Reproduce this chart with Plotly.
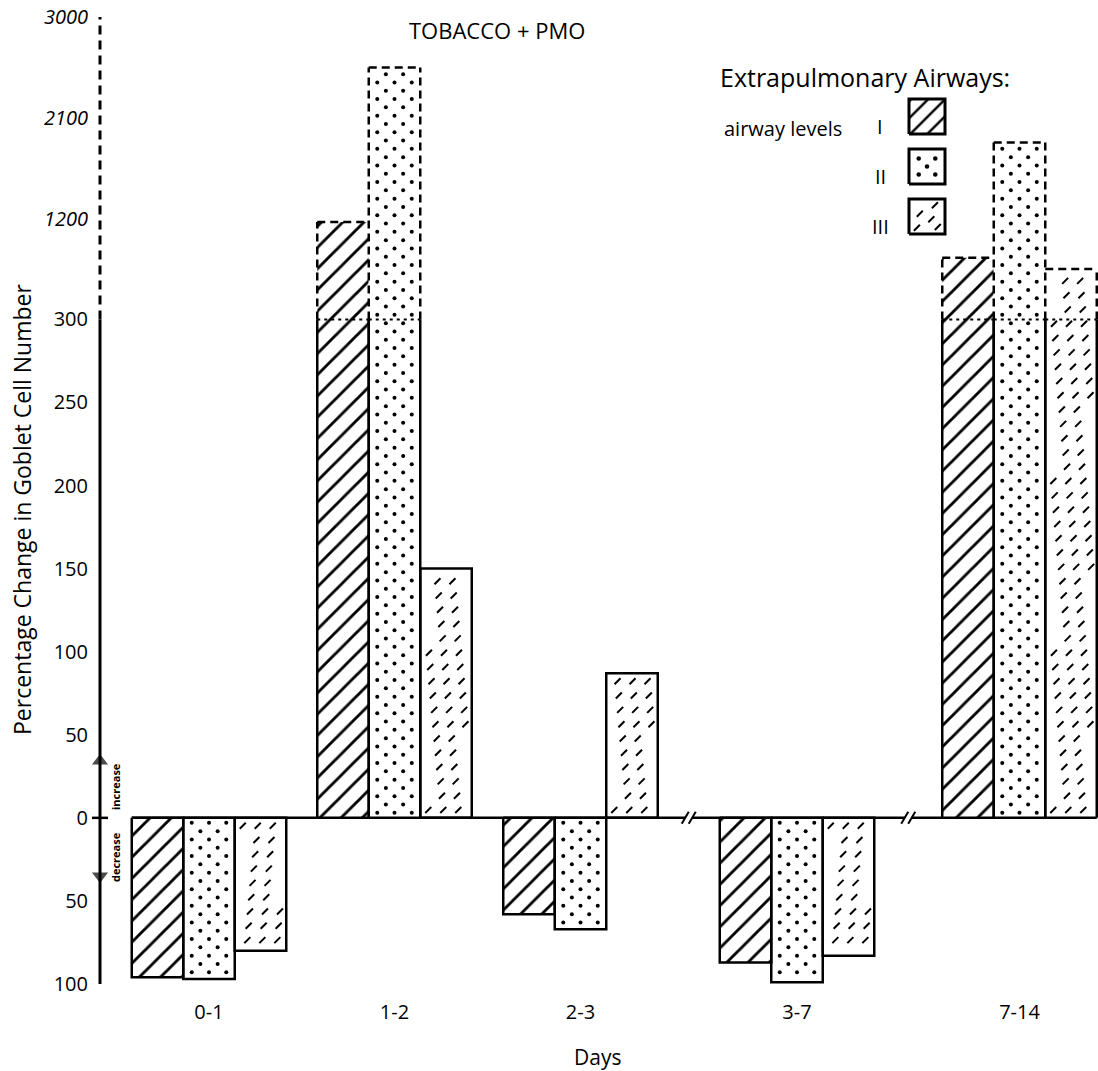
import numpy as np
import plotly.graph_objects as go

# ---------------- data ----------------
categories = ["0-1", "1-2", "2-3", "3-7", "7-14"]
airway_I = [-96, 1170, -58, -87, 850]
airway_II = [-97, 2550, -67, -99, 1880]
airway_III = [-80, 150, 87, -83, 750]
level_names = ["I", "II", "III"]

y_tick_values = [-100, -50, 0, 50, 100, 150, 200, 250, 300, 1200, 2100, 3000]
y_tick_text = ["100", "50", "0", "50", "100", "150", "200", "250", "300",
               "<i>1200</i>", "<i>2100</i>", "<i>3000</i>"]

# ---------------- layout constants ----------------
W, H = 1098, 1071
ML, MR, MT, MB = 60, 0, 17, 87
PLOT_W = W - ML - MR
PLOT_H = H - MT - MB
AX = 100                           # pixel x of the value axis
BREAK, TOP, YMIN = 300, 3000, -100
UPPER = 182.0                      # display units used for 300..3000 (broken scale)
YMAX = BREAK + UPPER
K = PLOT_H / (YMAX - YMIN)         # px per display unit
cat_pos = [209, 394.5, 580.5, 797, 1019.5]
BAR_W = 51.5
FONT = "Open Sans"
INK = "black"


def disp(v):
    return v if v <= BREAK else BREAK + (v - BREAK) * UPPER / (TOP - BREAK)


def py_to_d(py):
    return YMAX - (py - MT) / K


def py_to_paper(py):
    return (H - MB - py) / PLOT_H


def px_to_paper(px):
    return (px - ML) / PLOT_W


def bar_extent(c, i):
    x0 = c + (i - 1.5) * BAR_W
    return x0, x0 + BAR_W


series = [airway_I, airway_II, airway_III]
fig = go.Figure()

# ---------------- bars ----------------
for i, vals in enumerate(series):
    d = [disp(v) for v in vals]
    marker = dict(color="white", line=dict(width=0))
    if i == 0:
        marker["pattern"] = dict(shape="/", fgcolor=INK, bgcolor="white", size=15,
                                 solidity=0.19, fgopacity=1)
    fig.add_trace(go.Bar(
        x=cat_pos, y=d, width=BAR_W, offset=(i - 1.5) * BAR_W,
        marker=marker, name="level " + level_names[i], customdata=vals,
        hovertemplate="%{customdata}%<extra></extra>", showlegend=False))

# ---------------- textures: dots (level II) ----------------
dot_x, dot_y = [], []
row_step = 8.3 / K
for c, v in zip(cat_pos, airway_II):
    x0, _ = bar_extent(c, 1)
    d = disp(v)
    s = 1 if d > 0 else -1
    r = 0
    yy = s * row_step * 0.6
    while abs(yy) < abs(d) - 3.5 / K:
        offs = [8.5, 25.75, 43.0] if r % 2 == 0 else [17.1, 34.4]
        for o in offs:
            dot_x.append(x0 + o)
            dot_y.append(yy)
        r += 1
        yy += s * row_step
fig.add_trace(go.Scatter(x=dot_x, y=dot_y, mode="markers", hoverinfo="skip", showlegend=False,
                         marker=dict(symbol="circle", size=4, color=INK, line=dict(width=0))))

# ---------------- textures: short dashes (level III) ----------------
dash_x, dash_y = [], []
dash_step = 14.3 / K
for c, v in zip(cat_pos, airway_III):
    x0, _ = bar_extent(c, 2)
    d = disp(v)
    s = 1 if d > 0 else -1
    r = 0
    yy = s * dash_step * 0.55
    while abs(yy) < abs(d) - 5 / K:
        base = 8 + ((-1.3 * r) % 15)
        for j in range(3):
            o = base + 15 * j
            if 5 <= o <= 46:
                dash_x.append(x0 + o)
                dash_y.append(yy)
        r += 1
        yy += s * dash_step
fig.add_trace(go.Scatter(x=dash_x, y=dash_y, mode="markers", hoverinfo="skip", showlegend=False,
                         marker=dict(symbol="line-ne", size=6, color=INK,
                                     line=dict(width=2, color=INK))))

# ---------------- outlines ----------------
sx, sy, dx, dy, tx, ty = [], [], [], [], [], []
for i, vals in enumerate(series):
    for g, (c, v) in enumerate(zip(cat_pos, vals)):
        x0, x1 = bar_extent(c, i)
        d = disp(v)
        if d <= BREAK:
            sx += [x0, x0, x1, x1, x0, None]
            sy += [0, d, d, 0, 0, None]
        else:
            sx += [x0, x0, None, x1, x1, None]
            sy += [0, BREAK, None, 0, BREAK, None]
            left_n = disp(series[i - 1][g]) if i > 0 else -1e9
            right_n = disp(series[i + 1][g]) if i < 2 else -1e9
            if left_n < d:
                dx += [x0, x0, None]
                dy += [BREAK, d, None]
            if right_n < d:
                dx += [x1, x1, None]
                dy += [BREAK, d, None]
            dx += [x0, x1, None]
            dy += [d, d, None]
            tx += [x0, x1, None]
            ty += [BREAK, BREAK, None]
fig.add_trace(go.Scatter(x=sx, y=sy, mode="lines", hoverinfo="skip", showlegend=False,
                         line=dict(color=INK, width=2.5)))
fig.add_trace(go.Scatter(x=dx, y=dy, mode="lines", hoverinfo="skip", showlegend=False,
                         line=dict(color=INK, width=2.5, dash="8px,5px")))
fig.add_trace(go.Scatter(x=tx, y=ty, mode="lines", hoverinfo="skip", showlegend=False,
                         line=dict(color=INK, width=2, dash="3px,4px")))

# ---------------- axis line, zero line, breaks ----------------
fig.add_trace(go.Scatter(x=[AX, AX], y=[YMIN, BREAK], mode="lines", hoverinfo="skip",
                         showlegend=False, line=dict(color=INK, width=3)))
fig.add_trace(go.Scatter(x=[AX, AX], y=[BREAK, YMAX], mode="lines", hoverinfo="skip",
                         showlegend=False, line=dict(color=INK, width=3, dash="9px,6px")))
fig.add_trace(go.Scatter(x=[AX - 8, AX + 8], y=[0, 0], mode="lines", hoverinfo="skip",
                         showlegend=False, line=dict(color=INK, width=2.5)))

base_left = cat_pos[0] - 1.5 * BAR_W
base_right = cat_pos[-1] + 1.5 * BAR_W
brk1 = (cat_pos[2] + 1.5 * BAR_W + cat_pos[3] - 1.5 * BAR_W) / 2
brk2 = (cat_pos[3] + 1.5 * BAR_W + cat_pos[4] - 1.5 * BAR_W) / 2
gap = 3.5
zx = [base_left, brk1 - gap, None, brk1 + gap, brk2 - gap, None, brk2 + gap, base_right]
zy = [0, 0, None, 0, 0, None, 0, 0]
fig.add_trace(go.Scatter(x=zx, y=zy, mode="lines", hoverinfo="skip", showlegend=False,
                         line=dict(color=INK, width=2.5)))
hx, hy = [], []
sl = 6 / K
for b in (brk1, brk2):
    for cx in (b - gap, b + gap):
        hx += [cx - 3.5, cx + 3.5, None]
        hy += [-sl, sl, None]
fig.add_trace(go.Scatter(x=hx, y=hy, mode="lines", hoverinfo="skip", showlegend=False,
                         line=dict(color=INK, width=2)))

# arrows for increase / decrease
fig.add_trace(go.Scatter(x=[AX, AX], y=[py_to_d(761), py_to_d(876)], mode="markers",
                         hoverinfo="skip", showlegend=False,
                         marker=dict(symbol=["triangle-up", "triangle-down"], size=[14, 14],
                                     color=INK, line=dict(width=0))))

# ---------------- custom legend ----------------
LX0, LX1 = 909, 945
rows = [(99, 134), (149, 184), (199, 234)]
for i, (t, b) in enumerate(rows):
    yt, yb = py_to_d(t), py_to_d(b)
    fill_kw = {}
    if i == 0:
        fill_kw = dict(fill="toself", fillcolor="white",
                       fillpattern=dict(shape="/", fgcolor=INK, bgcolor="white", size=12,
                                        solidity=0.2, fgopacity=1))
    fig.add_trace(go.Scatter(x=[LX0, LX1, LX1, LX0, LX0], y=[yb, yb, yt, yt, yb], mode="lines",
                             hoverinfo="skip", showlegend=False,
                             line=dict(color=INK, width=3), **fill_kw))
    if i == 1:
        fx = [0.27, 0.73, 0.5, 0.27, 0.73]
        fy = [0.27, 0.27, 0.5, 0.73, 0.73]
        fig.add_trace(go.Scatter(x=[LX0 + f * (LX1 - LX0) for f in fx],
                                 y=[yt + f * (yb - yt) for f in fy], mode="markers",
                                 hoverinfo="skip", showlegend=False,
                                 marker=dict(size=4.5, color=INK, line=dict(width=0))))
    if i == 2:
        fx = [0.72, 0.3, 0.62, 0.22, 0.8]
        fy = [0.18, 0.42, 0.58, 0.82, 0.8]
        fig.add_trace(go.Scatter(x=[LX0 + f * (LX1 - LX0) for f in fx],
                                 y=[yt + f * (yb - yt) for f in fy], mode="markers",
                                 hoverinfo="skip", showlegend=False,
                                 marker=dict(symbol="line-ne", size=6, color=INK,
                                             line=dict(width=2, color=INK))))

annotations = [
    dict(text="TOBACCO + PMO", x=px_to_paper(497), y=py_to_paper(30), font=dict(size=22)),
    dict(text="Extrapulmonary Airways:", x=px_to_paper(718), y=py_to_paper(77),
         xanchor="left", font=dict(size=25)),
    dict(text="airway levels", x=px_to_paper(722), y=py_to_paper(128),
         xanchor="left", font=dict(size=20)),
    dict(text="Percentage Change in Goblet Cell Number", x=px_to_paper(22), y=py_to_paper(509),
         textangle=-90, font=dict(size=23)),
    dict(text="Days", x=px_to_paper(598), y=py_to_paper(1057), font=dict(size=21)),
    dict(text="<b>increase</b>", x=px_to_paper(115), y=py_to_paper(787), textangle=-90,
         font=dict(size=11)),
    dict(text="<b>decrease</b>", x=px_to_paper(115), y=py_to_paper(857), textangle=-90,
         font=dict(size=11)),
]
for name, (t, b) in zip(level_names, rows):
    annotations.append(dict(text=name, x=px_to_paper(880), y=py_to_paper((t + b) / 2 + 10),
                            font=dict(size=20)))
for a in annotations:
    a.setdefault("xanchor", "center")
    a.update(xref="paper", yref="paper", yanchor="middle", showarrow=False)
    a["font"].update(family=FONT, color=INK)

fig.update_layout(
    width=W, height=H,
    margin=dict(l=ML, r=MR, t=MT, b=MB, pad=0),
    paper_bgcolor="white", plot_bgcolor="white",
    barmode="overlay",
    font=dict(family=FONT, color=INK),
    showlegend=False,
    annotations=annotations,
    xaxis=dict(range=[ML, W - MR], tickmode="array", tickvals=cat_pos, ticktext=categories,
               showgrid=False, zeroline=False, showline=False, ticks="",
               tickfont=dict(size=20, family=FONT, color=INK), ticklabelstandoff=14,
               automargin=False, fixedrange=True),
    yaxis=dict(range=[YMIN, YMAX], tickmode="array",
               tickvals=[disp(v) if v >= 0 else v for v in y_tick_values], ticktext=y_tick_text,
               showgrid=False, zeroline=False, showline=False, ticks="",
               anchor="free", position=px_to_paper(AX),
               tickfont=dict(size=20, family=FONT, color=INK), ticklabelstandoff=12,
               automargin=False, fixedrange=True),
)

fig.write_html("out.html")
